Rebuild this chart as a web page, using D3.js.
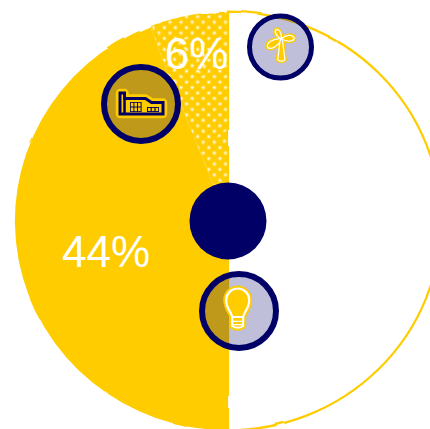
<!DOCTYPE html>
<html>
<head>
<meta charset="utf-8">
<script src="https://cdn.jsdelivr.net/npm/d3@7"></script>
<style>
  html, body { margin: 0; padding: 0; background: #fff; overflow: hidden; }
  svg { display: block; }
  text { font-family: "Liberation Sans", Arial, sans-serif; }
</style>
</head>
<body>
<div id="chart"></div>
<script>
// Daten
const categories = ['wind', 'fossil', 'renewable'];
const values = [50, 44, 6];
const labels = ['', '44%', '6%'];

const width = 430, height = 429;
const yellow = '#ffcc00', navy = '#000066';
const cx = 228, cy = 221, radius = 211;

const svg = d3.select('#chart').append('svg')
  .attr('width', width)
  .attr('height', height);

const defs = svg.append('defs');

// Punktmuster fuer das kleine Segment
const pattern = defs.append('pattern')
  .attr('id', 'dots')
  .attr('width', 11)
  .attr('height', 11)
  .attr('patternUnits', 'userSpaceOnUse');
pattern.append('rect').attr('width', 11).attr('height', 11).attr('fill', yellow);
[[3, 3], [8.5, 8.5]].forEach(p => {
  pattern.append('circle').attr('cx', p[0]).attr('cy', p[1]).attr('r', 2.2).attr('fill', '#fff').attr('fill-opacity', 0.3);
  pattern.append('circle').attr('cx', p[0]).attr('cy', p[1]).attr('r', 1.1).attr('fill', '#fff');
});

// leicht unruhiger Rand wie handgezeichnet
const rough = defs.append('filter')
  .attr('id', 'rough')
  .attr('x', '-5%').attr('y', '-5%')
  .attr('width', '110%').attr('height', '110%');
rough.append('feTurbulence')
  .attr('type', 'fractalNoise')
  .attr('baseFrequency', 0.03)
  .attr('numOctaves', 1)
  .attr('seed', 4)
  .attr('result', 'noise');
rough.append('feDisplacementMap')
  .attr('in', 'SourceGraphic')
  .attr('in2', 'noise')
  .attr('scale', 3)
  .attr('result', 'moved');
rough.append('feGaussianBlur')
  .attr('in', 'moved')
  .attr('stdDeviation', 0.25);

const pie = d3.pie().sort(null).value(d => d);
const arc = d3.arc().innerRadius(0).outerRadius(radius);
const arcs = pie(values);

// Kreis ist im Original minimal breiter als hoch
const root = svg.append('g').attr('transform', `translate(${cx},${cy}) scale(1.01,0.992)`);

const fills = [ '#fff', yellow, 'url(#dots)' ];

root.append('g').attr('filter', 'url(#rough)')
  .selectAll('path')
  .data(arcs)
  .join('path')
  .attr('d', arc)
  .attr('fill', (d, i) => fills[i])
  .attr('stroke', (d, i) => i === 0 ? yellow : 'none')
  .attr('stroke-width', 2.2);

// Mittelpunkt
svg.append('circle').attr('cx', cx).attr('cy', cy).attr('r', 38.5).attr('fill', navy);

// Prozentwerte
svg.append('text').attr('x', 106).attr('y', 266.5)
  .attr('text-anchor', 'middle').attr('font-size', 44).attr('fill', '#fff').text(labels[1]);
svg.append('text').attr('x', 196.5).attr('y', 69)
  .attr('text-anchor', 'middle').attr('font-size', 44).attr('fill', '#fff').text(labels[2]);

// Icons
function badge(x, y, r, sw) {
  const g = svg.append('g').attr('transform', `translate(${x},${y})`);
  g.append('circle').attr('r', r)
    .attr('fill', navy).attr('fill-opacity', 0.25)
    .attr('stroke', navy).attr('stroke-width', sw);
  return g;
}

// Fabrik
const factory = badge(141, 104, 37, 6);
const factoryPath = 'M-21,-11 H-16.5 V-5.5 H4.5 L10.5,-1.5 H22 V10 H-21 Z';
factory.append('path').attr('d', factoryPath)
  .attr('fill', yellow).attr('stroke', yellow).attr('stroke-width', 8.5).attr('stroke-linejoin', 'round');
factory.append('path').attr('d', factoryPath)
  .attr('fill', yellow).attr('stroke', navy).attr('stroke-width', 3).attr('stroke-linejoin', 'miter');
factory.append('path').attr('d', 'M-16.5,-5.5 V10')
  .attr('stroke', navy).attr('stroke-width', 2.6);
factory.append('rect').attr('x', -11).attr('y', -2).attr('width', 11.6).attr('height', 10).attr('fill', navy);
factory.append('rect').attr('x', 6).attr('y', 3).attr('width', 12).attr('height', 5).attr('fill', navy);
factory.append('g').selectAll('rect')
  .data(d3.range(6))
  .join('rect')
  .attr('x', d => -10.2 + (d % 3) * 3.6)
  .attr('y', d => -1.2 + Math.floor(d / 3) * 4.7)
  .attr('width', 2.6).attr('height', 3.7)
  .attr('fill', yellow);
factory.append('g').selectAll('rect')
  .data(d3.range(3))
  .join('rect')
  .attr('x', d => 7 + d * 3.8)
  .attr('y', 3.9)
  .attr('width', 2.6).attr('height', 3.2)
  .attr('fill', yellow);

// Windrad
const wind = badge(280.5, 47, 31, 5);
const blade = L => `M0,0 C${-.28 * L},${-.33 * L} ${-.33 * L},${-.85 * L} ${-.05 * L},${-L} C${.28 * L},${-L} ${.28 * L},${-.4 * L} 0,0 Z`;
const tower = 'M-1,0 L1,0 L3.6,21 Q0,24 -3.6,21 Z';
const windParts = [[tower, 0], [blade(10.5), -28], [blade(13), 88], [blade(16), 239]];
['halo', 'line'].forEach(layer => {
  windParts.forEach(([d, rot]) => {
    wind.append('path').attr('d', d)
      .attr('transform', `translate(0.8,-8.3) rotate(${rot})`)
      .attr('fill', yellow)
      .attr('stroke', layer === 'halo' ? yellow : '#fff')
      .attr('stroke-width', layer === 'halo' ? 4 : 1.2)
      .attr('stroke-linejoin', 'round');
  });
});

// Gluehbirne
const bulb = badge(239, 311, 37, 6);
const lamp = bulb.append('g').attr('transform', 'translate(-1.3,0)');
const bulbPath = 'M-5.5,6 C-6,1 -11.5,-2 -11.5,-11 A11.5,11.5 0 1 1 11.5,-11 C11.5,-2 6,1 5.5,6 Z';
const socketPath = 'M-5.5,6 V15 Q0,18.5 5.5,15 V6';
lamp.append('path').attr('d', socketPath)
  .attr('fill', yellow).attr('stroke', yellow).attr('stroke-width', 6).attr('stroke-linejoin', 'round');
lamp.append('path').attr('d', bulbPath)
  .attr('fill', yellow).attr('stroke', yellow).attr('stroke-width', 6);
lamp.append('path').attr('d', bulbPath)
  .attr('fill', yellow).attr('stroke', '#fff').attr('stroke-width', 2.2);
lamp.append('path').attr('d', socketPath)
  .attr('fill', 'none').attr('stroke', '#fff').attr('stroke-width', 2);
lamp.append('path').attr('d', 'M-5.5,10.3 H5.5 M-5.5,13.7 H5.5')
  .attr('fill', 'none').attr('stroke', '#fff').attr('stroke-width', 1.3);
</script>
</body>
</html>
